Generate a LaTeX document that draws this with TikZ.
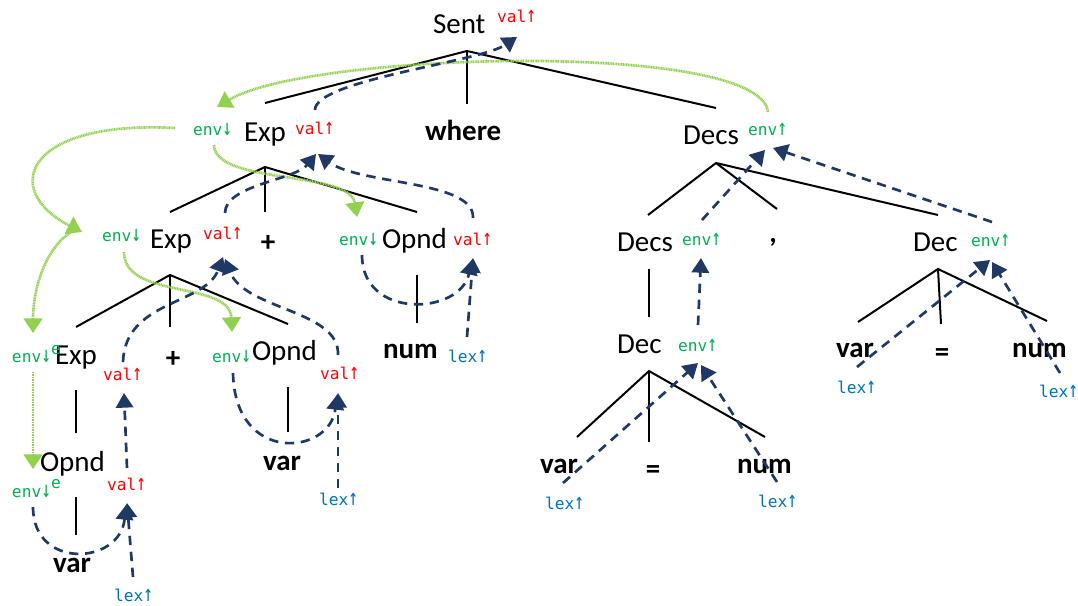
\documentclass[tikz,border=0pt]{standalone}
\usepackage{fontspec}
\usepackage{graphicx}
\setmainfont{Carlito}
\newfontfamily\attrfont{DejaVu Sans Mono}
\usetikzlibrary{arrows.meta}
\definecolor{valred}{HTML}{FF0000}
\definecolor{envgreen}{HTML}{00B050}
\definecolor{lexblue}{HTML}{0070C0}
\definecolor{depnavy}{HTML}{1F3864}
\definecolor{flowgreen}{HTML}{92D050}
% tall arrows for the attribute labels
\newcommand\upar{\scalebox{1}[1.4]{↑}}
\newcommand\dnar{\scalebox{1}[1.4]{↓}}
\tikzset{
  sym/.style={anchor=base west, inner sep=0pt, outer sep=0pt,
    font=\fontsize{21.75}{24}\selectfont},
  term/.style={sym, font=\fontsize{21.75}{24}\selectfont\bfseries},
  attr/.style={anchor=base west, inner sep=0pt, outer sep=0pt,
    font=\attrfont\fontsize{12.15}{14}\selectfont},
  val/.style={attr, text=valred},
  env/.style={attr, text=envgreen},
  lex/.style={attr, text=lexblue},
  branch/.style={line width=1.5pt, black},
  dep/.style={depnavy, line width=2pt, dash pattern=on 7pt off 5pt,
    -{Triangle[length=11pt,width=13pt]}},
  flow/.style={flowgreen, line width=2pt, dash pattern=on 0.8pt off 0.45pt,
    -{Triangle[length=11pt,width=14pt]}},
}
\begin{document}
\begin{tikzpicture}[x=0.75pt, y=-0.75pt]
\useasboundingbox (0,0) rectangle (1078,606);

% ---------- symbols and attributes ----------
\node[sym] (sent) at (433,34) {Sent};
\node[val] (sentVal) at (497,23) {val\upar};

\node[sym] (expA) at (244,142) {Exp};
\node[env] (expAEnv) at (193,136) {env\dnar};
\node[val] (expAVal) at (295,135) {val\upar};
\node[term] (where) at (425,141) {where};
\node[sym] (decsA) at (683,145) {Decs};
\node[env] (decsAEnv) at (748,136) {env\upar};

\node[sym] (expB) at (150,248) {Exp};
\node[env] (expBEnv) at (102,241) {env\dnar};
\node[val] (expBVal) at (203,239) {val\upar};
\node[term, anchor=base] (plusB) at (268,252) {+};
\node[sym] (opndA) at (382,248) {Opnd};
\node[env] (opndAEnv) at (339,245) {env\dnar};
\node[val] (opndAVal) at (453,245) {val\upar};
\node[term] (numA) at (383,358) {num};
\node[lex] (numALex) at (448,362) {lex\upar};

\node[sym] (decsB) at (617,252) {Decs};
\node[env] (decsBEnv) at (682,245) {env\upar};
\node[term, anchor=base] (comma) at (773,243) {,};
\node[sym] (decR) at (913,252) {Dec};
\node[env] (decREnv) at (971,247) {env\upar};

\node[sym] (expC) at (55,364) {Exp};
\node[env] (expCEnv) at (12,362) {env\dnar};
\node[env] (expCE) at (51,354) {e};
\node[val] (expCVal) at (103,380) {val\upar};
\node[term, anchor=base] (plusC) at (173,367) {+};
\node[sym] (opndB) at (252,360) {Opnd};
\node[env] (opndBEnv) at (212,362) {env\dnar};
\node[val] (opndBVal) at (320,379) {val\upar};
\node[term] (varB) at (263,470) {var};
\node[lex] (varBLex) at (319,505) {lex\upar};

\node[sym] (opndC) at (40,471) {Opnd};
\node[env] (opndCEnv) at (12,497) {env\dnar};
\node[env] (opndCE) at (51,488) {e};
\node[val] (opndCVal) at (107,490) {val\upar};
\node[term] (varC) at (53,572) {var};
\node[lex] (varCLex) at (114,601) {lex\upar};

\node[sym] (decM) at (617,353) {Dec};
\node[env] (decMEnv) at (678,351) {env\upar};
\node[term] (varM) at (540,473) {var};
\node[term, anchor=base] (eqM) at (653,478) {=};
\node[term] (numM) at (737,473) {num};
\node[lex] (varMLex) at (545,509) {lex\upar};
\node[lex] (numMLex) at (758,507) {lex\upar};

\node[term] (varR) at (836,357) {var};
\node[term, anchor=base] (eqR) at (942,361) {=};
\node[term] (numR) at (1012,357) {num};
\node[lex] (varRLex) at (837,393) {lex\upar};
\node[lex] (numRLex) at (1039,397) {lex\upar};

% ---------- tree branches ----------
\coordinate (sentJ) at (467,51);
\coordinate (toExpA) at (265,103);
\coordinate (toWhere) at (467,104);
\coordinate (toDecsA) at (716,108);
\draw[branch] (toExpA) -- (sentJ) -- (toDecsA);
\draw[branch] (sentJ) -- (toWhere);

\coordinate (expAJ) at (265,167);
\coordinate (toExpB) at (170,212);
\coordinate (toPlusB) at (265,212);
\coordinate (toOpndA) at (417,212);
\draw[branch] (toExpB) -- (expAJ) -- (toOpndA);
\draw[branch] (expAJ) -- (toPlusB);

\coordinate (expBJ) at (170,275);
\coordinate (toExpC) at (76,327);
\coordinate (toPlusC) at (170,327);
\coordinate (toOpndB) at (288,324);
\draw[branch] (toExpC) -- (expBJ) -- (toOpndB);
\draw[branch] (expBJ) -- (toPlusC);

\coordinate (expCJ) at (76,390);
\coordinate (toOpndC) at (76,433);
\draw[branch] (expCJ) -- (toOpndC);
\coordinate (opndCJ) at (76,497);
\coordinate (toVarC) at (76,535);
\draw[branch] (opndCJ) -- (toVarC);
\coordinate (opndBJ) at (288,387);
\coordinate (toVarB) at (288,432);
\draw[branch] (opndBJ) -- (toVarB);
\coordinate (opndAJ) at (417,275);
\coordinate (toNumA) at (417,323);
\draw[branch] (opndAJ) -- (toNumA);

\coordinate (decsAJ) at (716,163);
\coordinate (toDecsB) at (648,215);
\coordinate (toComma) at (777,209);
\coordinate (toDecR) at (938,215);
\draw[branch] (toDecsB) -- (decsAJ) -- (toDecR);
\draw[branch] (decsAJ) -- (toComma);

\coordinate (decsBJ) at (649,269);
\coordinate (toDecM) at (649,317);
\draw[branch] (decsBJ) -- (toDecM);

\coordinate (decMJ) at (649,371);
\coordinate (toVarM) at (577,437);
\coordinate (toEqM) at (649,442);
\coordinate (toNumM) at (765,437);
\draw[branch] (toVarM) -- (decMJ) -- (toNumM);
\draw[branch] (decMJ) -- (toEqM);

\coordinate (decRJ) at (938,269);
\coordinate (toVarR) at (858,322);
\coordinate (toEqR) at (941,324);
\coordinate (toNumR) at (1047,321);
\draw[branch] (toVarR) -- (decRJ) -- (toNumR);
\draw[branch] (decRJ) -- (toEqR);

% ---------- inherited env flow ----------
\coordinate (decsAEnvTop) at (768,112);
\coordinate (expAEnvIn) at (217,107);
\draw[flow] (decsAEnvTop) .. controls (760,40) and (309,52) .. (expAEnvIn);

\coordinate (expAEnvL) at (175,128);
\coordinate (expBEnvIn) at (82,232);
\draw[flow] (expAEnvL) .. controls (25,120) and (0,190) .. (expBEnvIn);

\coordinate (expBEnvL) at (76,229);
\coordinate (expCEnvIn) at (33,333);
\draw[flow] (expBEnvL) .. controls (45,245) and (33,290) .. (expCEnvIn);

\coordinate (expCEnvB) at (33,372);
\coordinate (opndCEnvIn) at (33,469);
\draw[flow] (expCEnvB) -- (opndCEnvIn);

\coordinate (expAEnvB) at (214,145);
\coordinate (opndAEnvIn) at (357,217);
\draw[flow] (expAEnvB) .. controls (215,185) and (350,170) .. (opndAEnvIn);

\coordinate (expBEnvB) at (124,252);
\coordinate (opndBEnvIn) at (232,332);
\draw[flow] (expBEnvB) .. controls (124,300) and (230,280) .. (opndBEnvIn);

% ---------- synthesized dependencies ----------
\coordinate (expAValTop) at (315,110);
\coordinate (sentValIn) at (517,37);
\draw[dep] (expAValTop) .. controls (315,80) and (480,62) .. (sentValIn);

\coordinate (expBValTop) at (225,213);
\coordinate (opndAValTop) at (473,218);
\coordinate (expAValIn) at (316,154);
\coordinate (expAValIn2) at (318,154);
\draw[dep] (expBValTop) .. controls (225,185) and (295,180) .. (expAValIn);
\draw[dep] (opndAValTop) .. controls (475,180) and (360,185) .. (expAValIn2);

\coordinate (expCValTop) at (123,362);
\coordinate (opndBValTop) at (338,355);
\coordinate (expBValIn) at (223,257);
\coordinate (expBValIn2) at (225,259);
\draw[dep] (expCValTop) .. controls (125,300) and (205,305) .. (expBValIn);
\draw[dep] (opndBValTop) .. controls (340,310) and (245,310) .. (expBValIn2);

\coordinate (numALexTop) at (467,337);
\coordinate (opndAEnvB) at (362,255);
\coordinate (opndAValIn) at (473,258);
\coordinate (opndAValIn2) at (472,260);
\draw[dep] (numALexTop) -- (opndAValIn);
\draw[dep] (opndAEnvB) .. controls (362,320) and (460,315) .. (opndAValIn2);

\coordinate (varBLexTop) at (338,488);
\coordinate (opndBEnvB) at (233,373);
\coordinate (opndBValIn) at (338,393);
\coordinate (opndBValIn2) at (337,395);
\draw[dep] (varBLexTop) -- (opndBValIn);
\draw[dep] (opndBEnvB) .. controls (235,465) and (330,455) .. (opndBValIn2);

\coordinate (opndCValTop) at (127,468);
\coordinate (expCValIn) at (124,393);
\draw[dep] (opndCValTop) -- (expCValIn);

\coordinate (varCLexTop) at (133,577);
\coordinate (opndCEnvB) at (33,507);
\coordinate (opndCValIn) at (127,503);
\coordinate (opndCValIn2) at (126,505);
\draw[dep] (varCLexTop) -- (opndCValIn);
\draw[dep] (opndCEnvB) .. controls (33,570) and (120,565) .. (opndCValIn2);

\coordinate (decsBEnvTop) at (702,220);
\coordinate (decREnvTop) at (992,222);
\coordinate (decsAEnvIn) at (765,150);
\coordinate (decsAEnvIn2) at (773,148);
\draw[dep] (decsBEnvTop) -- (decsAEnvIn);
\draw[dep] (decREnvTop) -- (decsAEnvIn2);

\coordinate (decMEnvTop) at (698,325);
\coordinate (decsBEnvIn) at (701,258);
\draw[dep] (decMEnvTop) -- (decsBEnvIn);

\coordinate (varMLexTop) at (563,483);
\coordinate (numMLexTop) at (777,482);
\coordinate (decMEnvIn) at (698,363);
\coordinate (decMEnvIn2) at (701,365);
\draw[dep] (varMLexTop) -- (decMEnvIn);
\draw[dep] (numMLexTop) -- (decMEnvIn2);

\coordinate (varRLexTop) at (857,367);
\coordinate (numRLexTop) at (1060,373);
\coordinate (decREnvIn) at (990,260);
\coordinate (decREnvIn2) at (992,262);
\draw[dep] (varRLexTop) -- (decREnvIn);
\draw[dep] (numRLexTop) -- (decREnvIn2);
\end{tikzpicture}
\end{document}
